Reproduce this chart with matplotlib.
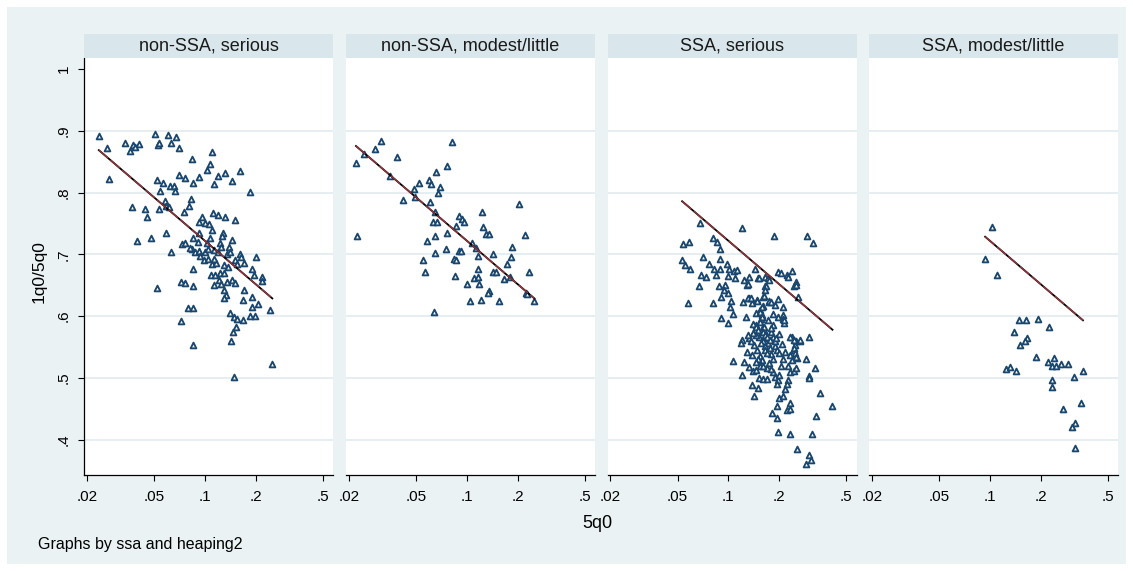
"""Stata-style by-graph: 1q0/5q0 against 5q0 (log scale), four panels by ssa and heaping2."""

import matplotlib
matplotlib.use("Agg")  # no display
import matplotlib.pyplot as plt
from matplotlib.patches import Rectangle
import numpy as np

plt.rcParams["font.family"] = ["Liberation Sans", "DejaVu Sans"]

W, H = 1133, 571

# Stata s2color look
BG = "#eaf2f3"
STRIP = "#d9e6eb"
NAVY = "#1a476f"
MAROON = "#90353b"
GRID = "#e4edf0"

PANEL_TITLES = ["non-SSA, serious", "non-SSA, modest/little",
                "SSA, serious", "SSA, modest/little"]
X_TICKS = [0.02, 0.05, 0.1, 0.2, 0.5]
X_TICKLABELS = [".02", ".05", ".1", ".2", ".5"]
Y_TICKS = [0.4, 0.5, 0.6, 0.7, 0.8, 0.9, 1.0]
Y_TICKLABELS = [".4", ".5", ".6", ".7", ".8", ".9", "1"]

# pooled prediction drawn in every panel: y = a + b * log10(5q0)
FIT_INTERCEPT = 0.489
FIT_SLOPE = -0.233

# non-SSA, serious
X1 = [.0235, .0264, .0270, .0335, .0360, .0374, .0387, .0409, .0509, .0526,
      .0535, .0608, .0630, .0678, .0700, .0834, .1108, .1075, .1024, .1311,
      .1611, .1192, .0923, .0706, .0758, .0853, .1137, .1444, .1846, .0517,
      .0565, .0622, .0654, .0666, .0543,
      .0368, .0444, .0456, .0535, .0581, .0589, .0617, .0831, .0805, .0752,
      .0398, .0480, .0589, .0632, .0962, .0920, .1000, .1060, .1121, .1192,
      .1318, .1511, .1097, .1277, .1266, .1458, .0920, .0856, .0907, .1075,
      .1024, .1225, .1255, .1400, .0834, .0877, .0923, .1000, .1050, .1127,
      .1204, .1350, .1414, .1626, .0734, .0758, .0812,
      .1650, .2000, .0935, .0985, .1050, .1104, .1170, .1127, .1297, .1381,
      .1520, .1550, .1700, .1900, .1955, .2190, .2170, .0850, .1086, .1143,
      .1225, .1297, .1209, .1350, .1452, .1520, .1127, .1245, .1297, .1331,
      .1297, .1700, .1918, .1680, .2075, .1900, .2450, .0850, .1414, .1480,
      .1550, .1680, .1846, .1990, .1540, .0517, .0725, .0758, .0796, .0846,
      .0725, .0846, .1460, .1430, .2515, .1490]
Y1 = [.891, .872, .822, .880, .867, .877, .873, .879, .894, .877,
      .880, .893, .880, .890, .872, .854, .866, .846, .836, .832,
      .835, .827, .825, .829, .823, .816, .813, .819, .801, .821,
      .815, .810, .810, .803, .802,
      .777, .773, .761, .773, .786, .778, .776, .789, .778, .769,
      .722, .726, .734, .704, .761, .752, .750, .749, .767, .763,
      .760, .756, .740, .734, .729, .723, .734, .726, .720, .726,
      .718, .718, .712, .712, .708, .704, .706, .704, .708, .707,
      .704, .701, .704, .700, .716, .719, .711,
      .696, .695, .697, .691, .692, .685, .686, .693, .682, .680,
      .691, .685, .686, .677, .667, .663, .657, .677, .667, .667,
      .669, .670, .658, .656, .659, .653, .650, .652, .643, .635,
      .629, .643, .631, .626, .620, .615, .610, .648, .605, .598,
      .596, .594, .600, .601, .582, .645, .655, .653, .613, .613,
      .592, .554, .575, .559, .522, .502]

# non-SSA, modest/little
X2 = [.0308, .0287, .0245, .0220, .0820, .0387, .0761, .0655, .0348, .0522,
      .0594, .0617, .0695, .0675, .0483, .0490, .0419, .0602, .0645, .0627,
      .0666, .0583, .0645, .0768, .0868, .0896, .0938, .0962, .1233, .1251,
      .1301, .1363, .2050, .2229, .1080, .1141, .0754, .0896, .0925, .1172,
      .1428, .1850, .1817, .0651, .0549, .0567, .0840, .0868, .0852, .0996,
      .1102, .1172, .1172, .1189, .1433, .1500, .1725, .1664, .1793, .2339,
      .1352, .1335, .1048, .1207, .1562, .2250, .2290, .2516, .0636, .0224]
Y2 = [.883, .870, .862, .847, .881, .857, .843, .833, .826, .816,
      .821, .814, .809, .800, .806, .792, .788, .784, .768, .752,
      .752, .721, .730, .734, .746, .762, .757, .752, .769, .745,
      .733, .733, .781, .731, .719, .711, .709, .706, .705, .697,
      .700, .712, .696, .702, .691, .671, .693, .691, .665, .652,
      .661, .664, .677, .652, .671, .672, .684, .660, .663, .671,
      .641, .637, .624, .626, .624, .637, .636, .624, .607, .729]

# SSA, serious
X3 = [.0676, .1203, .1862, .2940, .3170, .0541, .0583, .0811, .0862, .0889,
      .0532, .0553, .0592, .0703, .0765, .0893, .0828, .0897, .0976, .1009,
      .1085, .1129, .0684, .0741, .0846, .0998, .1093, .1234, .1320, .1434,
      .1502, .1652, .1981, .2050, .2233, .2265, .2402, .2527, .2465, .2576,
      .1723, .0672, .0880, .0962, .0938, .0998, .0907, .1290, .1652, .1606,
      .1320, .1489, .1042, .1225, .1374, .1749, .1975, .2117, .0573, .0808,
      .1024, .1067, .0911, .1000, .1280, .1550, .1606, .1580, .1565, .1606,
      .1635, .1467, .1400, .1846, .2117, .2120, .2150, .1803, .2000, .1655,
      .1846, .1708, .2392, .2510, .2680, .3010, .2470, .1211, .1183, .1332,
      .1414, .1480, .1297, .1374, .1067, .1241, .1532, .1580, .1661, .1779,
      .1900, .1941, .1803, .1846, .1735, .2170, .2335, .2465, .2392, .2564,
      .2875, .1320, .1400, .1467, .1203, .1536, .1690, .1519, .1606, .1690,
      .1846, .1900, .1975, .2000, .1941, .2274, .2335, .2455, .2527, .2224,
      .2182, .3030, .3000, .3265, .1380, .1502, .1426, .2000, .2117, .2315,
      .1941, .2224, .2335, .1810, .1941, .3520, .4150, .3300, .1967, .2310,
      .3150, .2545, .3010, .3100, .2885, .1310, .1520, .1750, .2520, .1670,
      .1650, .1310, .1370, .1480, .1625, .1735, .1800, .1900, .1450, .1577,
      .1540, .1580, .1550, .1625, .1460, .1500, .1606, .1975, .2150, .2335,
      .2465, .2660, .2440, .2470, .2510, .1650, .1700, .1760, .1600, .1520,
      .1450, .1400, .1300, .1360, .1560, .1640, .1700, .1880, .1920, .1500,
      .1450, .1600, .1780, .2050, .2100, .2250, .2000, .2070, .1850, .1720,
      .1780]
Y3 = [.751, .743, .730, .730, .719, .717, .720, .727, .720, .708,
      .691, .683, .676, .695, .685, .692, .676, .677, .684, .676,
      .673, .675, .666, .664, .666, .665, .662, .658, .664, .677,
      .662, .663, .671, .669, .666, .663, .673, .655, .649, .631,
      .662, .648, .648, .650, .643, .638, .631, .651, .648, .631,
      .630, .626, .625, .623, .621, .623, .627, .615, .621, .622,
      .614, .603, .597, .589, .599, .610, .616, .602, .595, .583,
      .578, .585, .587, .603, .602, .596, .589, .575, .571, .564,
      .567, .556, .566, .560, .560, .567, .554, .562, .556, .564,
      .553, .546, .542, .537, .528, .526, .536, .529, .551, .548,
      .551, .546, .539, .530, .524, .542, .537, .545, .529, .533,
      .531, .517, .512, .513, .504, .520, .516, .500, .499, .499,
      .510, .502, .497, .504, .491, .497, .509, .511, .516, .491,
      .482, .503, .500, .516, .488, .484, .470, .468, .470, .460,
      .455, .448, .449, .444, .436, .475, .455, .438, .413, .409,
      .409, .385, .375, .367, .360, .652, .662, .659, .650, .648,
      .642, .630, .630, .625, .632, .625, .623, .618, .605, .614,
      .607, .599, .591, .583, .583, .578, .575, .598, .593, .567,
      .561, .561, .548, .540, .534, .570, .566, .562, .560, .566,
      .569, .572, .570, .560, .556, .545, .540, .560, .565, .530,
      .525, .520, .515, .520, .530, .520, .540, .555, .586, .593,
      .580]

# SSA, modest/little
X4 = [.1033, .0938, .1097, .1490, .1635, .1930, .2245, .1400, .1655, .1620,
      .1510, .1880, .2390, .2215, .2325, .2455, .2650, .2915, .1246, .1318,
      .1430, .3570, .3150, .2345, .2345, .3460, .2725, .3180, .3075, .3180]
Y4 = [.745, .692, .666, .593, .593, .595, .583, .575, .565, .560,
      .553, .534, .533, .526, .520, .519, .522, .522, .514, .518,
      .511, .512, .502, .496, .486, .460, .450, .427, .420, .387]

PANELS = [(X1, Y1), (X2, Y2), (X3, Y3), (X4, Y4)]


def px_rect(left, top, width, height):
    """Pixel box (from the top-left corner) to figure fractions."""
    return [left / W, 1 - (top + height) / H, width / W, height / H]


fig = plt.figure(figsize=(W / 100, H / 100), dpi=100, facecolor="white")
fig.add_artist(Rectangle((7 / W, 7 / H), 1119 / W, 557 / H,
                         transform=fig.transFigure, facecolor=BG,
                         edgecolor="none", zorder=-10))

panel_left = [84, 346, 607.5, 869]
panel_w = 249
plot_top, plot_bottom = 58, 475

for i, (title, (xs, ys)) in enumerate(zip(PANEL_TITLES, PANELS)):
    assert len(xs) == len(ys)
    ax = fig.add_axes(px_rect(panel_left[i], plot_top, panel_w,
                              plot_bottom - plot_top))
    ax.set_facecolor("white")
    ax.set_xscale("log")
    ax.set_xlim(0.0192, 0.576)
    ax.set_ylim(0.343, 1.0176)

    for g in Y_TICKS[:-1]:
        ax.axhline(g, color=GRID, lw=1.3, zorder=1)

    ax.scatter(xs, ys, marker="^", s=17, facecolors="white",
               edgecolors=NAVY, linewidths=1.35, zorder=2)

    xf = np.array([min(xs), max(xs)])
    yf = FIT_INTERCEPT + FIT_SLOPE * np.log10(xf)
    ax.plot(xf, yf, color="black", lw=1.3, zorder=3)
    ax.plot(xf, yf, color=MAROON, lw=1.1, ls=(0, (8, 2)), zorder=4)

    ax.xaxis.set_minor_locator(matplotlib.ticker.NullLocator())
    ax.set_xticks(X_TICKS, labels=X_TICKLABELS)
    ax.tick_params(axis="x", direction="out", length=4.5, width=0.8,
                   pad=6.5, labelsize=11, color="black")
    for side in ("top", "right"):
        ax.spines[side].set_visible(False)
    ax.spines["bottom"].set_linewidth(0.9)

    if i == 0:
        ax.set_yticks(Y_TICKS, labels=Y_TICKLABELS)
        ax.tick_params(axis="y", direction="out", length=4.5, width=0.8,
                       pad=5, labelsize=11)
        for lab in ax.get_yticklabels():
            lab.set_rotation(90)
            lab.set_va("center")
        ax.spines["left"].set_linewidth(0.9)
    else:
        ax.set_yticks([])
        ax.spines["left"].set_visible(False)

    # title strip
    sax = fig.add_axes(px_rect(panel_left[i], 34, panel_w, 24))
    sax.set_facecolor(STRIP)
    sax.set_xticks([])
    sax.set_yticks([])
    for sp in sax.spines.values():
        sp.set_visible(False)
    sax.text(0.5, 0.5, title, ha="center", va="center", fontsize=13,
             color="#1a1a1a", transform=sax.transAxes)

fig.text(39 / W, 1 - 272 / H, "1q0/5q0", rotation=90, ha="center",
         va="center", fontsize=12.5)
fig.text(597 / W, 1 - 523 / H, "5q0", ha="center", va="center",
         fontsize=13)
fig.text(38 / W, 1 - 545 / H, "Graphs by ssa and heaping2", ha="left",
         va="center", fontsize=11.5)

fig.savefig("out.png", dpi=100)
